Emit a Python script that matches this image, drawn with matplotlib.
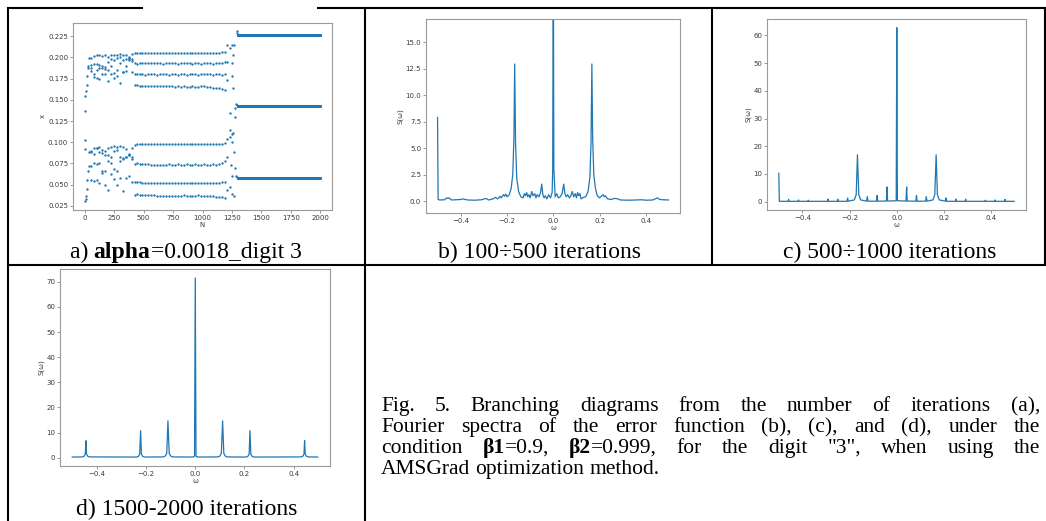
import matplotlib
matplotlib.use("Agg")
import matplotlib.pyplot as plt
from matplotlib.lines import Line2D
from matplotlib.patches import Rectangle

W, H = 1046, 521
BLUE = "#1f77b4"

# ---- a) branching diagram: x values vs iteration N ----
a_start_n = [0, 3, 5, 8, 12, 18, 22, 28, 32, 40, 0, 5, 10, 15, 20, 25, 30, 35]
a_start_x = [0.030, 0.102, 0.092, 0.033, 0.037, 0.045, 0.055, 0.066, 0.072, 0.088,
             0.137, 0.155, 0.160, 0.168, 0.178, 0.188, 0.190, 0.199]

a_early_n = [50, 75, 100, 125, 150, 175, 200, 225, 250, 275, 300, 325, 350, 375, 400, 425]
a_early_rows = [
    [0.1995, 0.202, 0.203, 0.203, 0.202, 0.2035, 0.201, 0.203, 0.2035, 0.2035, 0.204, 0.2035, 0.2025, 0.200, 0.204, 0.205],
    [0.1915, 0.192, 0.1925, 0.191, 0.190, 0.189, 0.195, 0.198, 0.197, 0.199, 0.200, 0.197, 0.198, 0.199, 0.196, 0.193],
    [0.187, 0.180, 0.185, 0.187, 0.187, 0.186, 0.185, 0.190, 0.182, 0.185, 0.194, 0.183, 0.184, 0.198, 0.183, 0.180],
    [0.184, 0.177, 0.176, 0.175, 0.181, 0.180, 0.172, 0.180, 0.176, 0.178, 0.170, 0.183, 0.190, 0.197, 0.198, 0.167],
    [0.090, 0.093, 0.0935, 0.094, 0.091, 0.090, 0.093, 0.094, 0.095, 0.094, 0.096, 0.094, 0.092, 0.086, 0.093, 0.097],
    [0.088, 0.086, 0.093, 0.089, 0.087, 0.085, 0.085, 0.083, 0.090, 0.091, 0.082, 0.081, 0.083, 0.085, 0.083, 0.0745],
    [0.072, 0.075, 0.074, 0.076, 0.066, 0.066, 0.078, 0.075, 0.068, 0.066, 0.078, 0.080, 0.082, 0.085, 0.080, 0.0525],
    [0.055, 0.054, 0.055, 0.052, 0.064, 0.050, 0.044, 0.062, 0.056, 0.049, 0.058, 0.042, 0.058, 0.060, 0.053, 0.038],
]

a_plateau_n = list(range(440, 1191, 25))
a_plateau_rows = [
    [0.2055, 0.2057, 0.2057, 0.2057, 0.2056, 0.2057, 0.2057, 0.2057, 0.2056, 0.2057,
     0.2057, 0.2057, 0.2057, 0.2056, 0.2057, 0.2057, 0.2057, 0.2057, 0.2056, 0.2057,
     0.2057, 0.2057, 0.2056, 0.2057, 0.2057, 0.2057, 0.2057, 0.2056, 0.2057, 0.2060, 0.2068],
    [0.1925, 0.1935, 0.1935, 0.1932, 0.1935, 0.1935, 0.1930, 0.1935, 0.1935, 0.1928,
     0.1935, 0.1935, 0.1932, 0.1935, 0.1925, 0.1935, 0.1935, 0.1930, 0.1935, 0.1928,
     0.1935, 0.1935, 0.1922, 0.1935, 0.1935, 0.1930, 0.1928, 0.1935, 0.1930, 0.1940, 0.1950],
    [0.1805, 0.1800, 0.1800, 0.1795, 0.1800, 0.1800, 0.1800, 0.1795, 0.1800, 0.1800,
     0.1805, 0.1795, 0.1800, 0.1800, 0.1795, 0.1800, 0.1800, 0.1797, 0.1800, 0.1805,
     0.1800, 0.1795, 0.1800, 0.1800, 0.1805, 0.1800, 0.1795, 0.1800, 0.1805, 0.1795, 0.1800],
    [0.1670, 0.1665, 0.1660, 0.1658, 0.1658, 0.1658, 0.1658, 0.1658, 0.1658, 0.1658,
     0.1658, 0.1658, 0.1658, 0.1655, 0.1658, 0.1650, 0.1658, 0.1655, 0.1650, 0.1658,
     0.1655, 0.1650, 0.1658, 0.1665, 0.1655, 0.1650, 0.1645, 0.1640, 0.1635, 0.1625, 0.1615],
    [0.0975, 0.0977, 0.0978, 0.0978, 0.0977, 0.0978, 0.0978, 0.0978, 0.0977, 0.0978,
     0.0978, 0.0978, 0.0977, 0.0978, 0.0978, 0.0978, 0.0978, 0.0977, 0.0978, 0.0978,
     0.0978, 0.0977, 0.0978, 0.0978, 0.0978, 0.0977, 0.0978, 0.0978, 0.0978, 0.0980, 0.0985],
    [0.0755, 0.0745, 0.0740, 0.0740, 0.0738, 0.0735, 0.0735, 0.0735, 0.0735, 0.0735,
     0.0733, 0.0738, 0.0735, 0.0730, 0.0738, 0.0735, 0.0728, 0.0740, 0.0730, 0.0735,
     0.0740, 0.0728, 0.0735, 0.0740, 0.0730, 0.0735, 0.0738, 0.0735, 0.0740, 0.0750, 0.0780],
    [0.0525, 0.0525, 0.0522, 0.0520, 0.0520, 0.0520, 0.0520, 0.0520, 0.0518, 0.0520,
     0.0520, 0.0520, 0.0522, 0.0520, 0.0518, 0.0520, 0.0515, 0.0522, 0.0520, 0.0518,
     0.0522, 0.0515, 0.0520, 0.0522, 0.0518, 0.0520, 0.0515, 0.0520, 0.0522, 0.0525, 0.0530],
    [0.0385, 0.0378, 0.0375, 0.0375, 0.0373, 0.0372, 0.0372, 0.0370, 0.0370, 0.0370,
     0.0370, 0.0370, 0.0368, 0.0370, 0.0365, 0.0370, 0.0372, 0.0368, 0.0365, 0.0370,
     0.0365, 0.0372, 0.0368, 0.0365, 0.0362, 0.0365, 0.0360, 0.0358, 0.0355, 0.0350, 0.0340],
]

a_jump_n = [1211, 1231, 1251, 1268, 1259, 1251, 1211, 1251, 1211, 1259, 1231, 1274, 1279, 1288,
            1231, 1251, 1211, 1231, 1251, 1268, 1211, 1240, 1274, 1231, 1211, 1251, 1251, 1288,
            1290, 1290, 1295, 1295, 1268, 1262]
a_jump_x = [0.2143, 0.211, 0.2145, 0.215, 0.2025, 0.193, 0.195, 0.178, 0.173, 0.164, 0.134, 0.1295, 0.140, 0.145,
            0.114, 0.110, 0.104, 0.106, 0.100, 0.088, 0.082, 0.073, 0.069, 0.047, 0.044, 0.039, 0.060, 0.060,
            0.231, 0.2285, 0.1435, 0.0590, 0.037, 0.111]

a_tail_n = list(range(1300, 2001, 5))
a_tail_levels = [0.2268, 0.1426, 0.0578]

# ---- b) spectrum, 100..500 iterations ----
b_w = [-0.5, -0.4975, -0.49, -0.47, -0.46, -0.455, -0.45, -0.44, -0.42, -0.40, -0.39, -0.37, -0.34,
       -0.31, -0.29, -0.28, -0.26, -0.25, -0.24, -0.23, -0.225, -0.215, -0.21, -0.205, -0.2, -0.19,
       -0.182, -0.175, -0.17, -0.1667, -0.163, -0.158, -0.15, -0.14, -0.13, -0.125, -0.12, -0.115,
       -0.11, -0.105, -0.1, -0.093, -0.088, -0.08, -0.075, -0.07, -0.062, -0.055, -0.05, -0.045,
       -0.04, -0.035, -0.028, -0.02, -0.012, -0.005, -0.0025, 0.0, 0.0025, 0.008, 0.015, 0.022,
       0.03, 0.038, 0.045, 0.05, 0.056, 0.062, 0.07, 0.076, 0.082, 0.088, 0.095, 0.1, 0.105, 0.11,
       0.115, 0.12, 0.13, 0.14, 0.15, 0.158, 0.163, 0.1667, 0.17, 0.175, 0.182, 0.19, 0.2, 0.21,
       0.215, 0.22, 0.225, 0.235, 0.25, 0.265, 0.28, 0.29, 0.33, 0.38, 0.4, 0.43, 0.45, 0.46,
       0.475, 0.4975]
b_s = [7.9, 0.15, 0.1, 0.12, 0.3, 0.25, 0.3, 0.1, 0.12, 0.15, 0.2, 0.1, 0.08,
       0.12, 0.25, 0.1, 0.2, 0.35, 0.2, 0.45, 0.3, 0.6, 0.45, 0.65, 0.4, 0.6,
       1.2, 2.5, 6.0, 12.95, 5.5, 2.2, 0.9, 0.4, 0.3, 0.7, 0.5, 0.8,
       0.4, 0.6, 0.3, 0.9, 0.5, 0.7, 0.3, 0.6, 0.4, 0.8, 1.6, 0.6,
       0.3, 0.5, 0.2, 0.6, 0.3, 0.8, 3.0, 25.0, 3.0, 0.4, 0.7, 0.3,
       0.4, 0.7, 1.6, 0.7, 0.4, 0.6, 0.3, 0.5, 0.9, 0.4, 0.7, 0.3, 0.8, 0.5,
       0.7, 0.2, 0.35, 0.4, 0.9, 2.2, 5.5, 12.95, 6.0, 2.5, 1.2, 0.5, 0.3, 0.5,
       0.6, 0.4, 0.5, 0.2, 0.15, 0.25, 0.2, 0.1, 0.08, 0.12, 0.08, 0.1, 0.3, 0.15,
       0.12, 0.1]

# ---- c) spectrum, 500..1000 iterations ----
c_w = [-0.5, -0.4975, -0.461, -0.4583, -0.456, -0.419, -0.4167, -0.414, -0.377, -0.375, -0.373,
       -0.294, -0.2917, -0.289, -0.252, -0.25, -0.248, -0.211, -0.2083, -0.206, -0.18, -0.172,
       -0.1667, -0.161, -0.153, -0.128, -0.125, -0.122, -0.086, -0.0833, -0.081, -0.044, -0.0417,
       -0.039, -0.0025, 0.0, 0.0025, 0.039, 0.0417, 0.044, 0.081, 0.0833, 0.086, 0.122, 0.125,
       0.128, 0.153, 0.161, 0.1667, 0.172, 0.18, 0.206, 0.2083, 0.211, 0.248, 0.25, 0.252, 0.289,
       0.2917, 0.294, 0.373, 0.375, 0.377, 0.414, 0.4167, 0.419, 0.456, 0.4583, 0.461, 0.4975]
c_s = [10.2, 0.1, 0.1, 0.8, 0.1, 0.1, 0.6, 0.1, 0.1, 0.5, 0.1,
       0.1, 0.9, 0.1, 0.1, 0.9, 0.1, 0.1, 1.3, 0.15, 0.6, 2.5,
       16.9, 2.5, 0.6, 0.15, 1.8, 0.15, 0.15, 2.2, 0.15, 0.2, 5.3,
       0.2, 0.3, 62.8, 0.3, 0.2, 5.3, 0.2, 0.15, 2.2, 0.15, 0.15, 1.8,
       0.15, 0.6, 2.5, 16.9, 2.5, 0.6, 0.15, 1.3, 0.1, 0.1, 0.9, 0.1, 0.1,
       0.9, 0.1, 0.1, 0.5, 0.1, 0.1, 0.6, 0.1, 0.1, 0.8, 0.1, 0.1]

# ---- d) spectrum, 1500..2000 iterations ----
d_w = [-0.5, -0.46, -0.452, -0.447, -0.4444, -0.442, -0.437, -0.429, -0.24, -0.232, -0.226,
       -0.2222, -0.219, -0.213, -0.205, -0.13, -0.122, -0.116, -0.1111, -0.106, -0.1, -0.092,
       -0.01, -0.003, 0.0, 0.003, 0.01, 0.092, 0.1, 0.106, 0.1111, 0.116, 0.122, 0.13, 0.205,
       0.213, 0.219, 0.2222, 0.226, 0.232, 0.24, 0.429, 0.437, 0.442, 0.4444, 0.447, 0.452, 0.46,
       0.4978]
d_s = [0.3, 0.35, 0.6, 1.5, 6.8, 1.5, 0.6, 0.35, 0.3, 0.5, 1.4,
       10.8, 1.4, 0.5, 0.3, 0.35, 0.7, 1.8, 14.7, 1.8, 0.7, 0.35,
       0.3, 0.6, 71.5, 0.6, 0.3, 0.35, 0.7, 1.8, 14.7, 1.8, 0.7, 0.35, 0.3,
       0.5, 1.4, 10.8, 1.4, 0.5, 0.3, 0.35, 0.6, 1.5, 6.8, 1.5, 0.6, 0.35,
       0.3]

captions = ["100\u00f7500 iterations", "500\u00f71000 iterations", "1500-2000 iterations"]
fig_caption = [
    [["Fig."], ["5."], ["Branching"], ["diagrams"], ["from"], ["the"], ["number"], ["of"],
     ["iterations"], ["(a),"]],
    [["Fourier"], ["spectra"], ["of"], ["the"], ["error"], ["function"], ["(b),"], ["(c),"],
     ["and"], ["(d),"], ["under"], ["the"]],
    [["condition"], [("\u03b21", "bold"), "=0.9,"], [("\u03b22", "bold"), "=0.999,"], ["for"],
     ["the"], ["digit"], ['"3",'], ["when"], ["using"], ["the"]],
    [["AMSGrad"], ["optimization"], ["method."]],
]

SERIF = "Liberation Serif"
TXT = "#3a3a3a"


def px_axes(fig, l, t, r, b):
    return fig.add_axes([l / W, 1 - b / H, (r - l) / W, (b - t) / H])


def style(ax, xlabel, ylabel):
    for sp in ax.spines.values():
        sp.set_color("#9a9a9a")
        sp.set_linewidth(0.8)
    ax.tick_params(labelsize=5, colors="#888888", labelcolor=TXT, length=2, width=0.6, pad=1.5)
    ax.set_xlabel(xlabel, fontsize=5, color=TXT, labelpad=1)
    ax.set_ylabel(ylabel, fontsize=5, color=TXT, labelpad=1.5)


def hline(fig, y, x0, x1):
    fig.add_artist(Line2D([x0 / W, x1 / W], [1 - y / H, 1 - y / H], color="black", lw=1.5,
                          transform=fig.transFigure, solid_capstyle="butt", zorder=20))


def vline(fig, x, y0, y1):
    fig.add_artist(Line2D([x / W, x / W], [1 - y0 / H, 1 - y1 / H], color="black", lw=1.5,
                          transform=fig.transFigure, solid_capstyle="butt", zorder=20))


def run_width(fig, r, pieces, size):
    w = 0
    for p in pieces:
        s, wt = (p, "normal") if isinstance(p, str) else p
        t = fig.text(0, 0, s, fontsize=size, family=SERIF, weight=wt)
        w += t.get_window_extent(r).width
        t.remove()
    return w


def draw_pieces(fig, r, x, y, pieces, size):
    for p in pieces:
        s, wt = (p, "normal") if isinstance(p, str) else p
        t = fig.text(x / W, 1 - y / H, s, fontsize=size, family=SERIF, weight=wt,
                     va="baseline", ha="left", color="black")
        x += t.get_window_extent(r).width
    return x


fig = plt.figure(figsize=(W / 100, H / 100), dpi=100)
r = fig.canvas.get_renderer()

# a) branching diagram
ax = px_axes(fig, 73, 22.7, 332, 210)
ax.plot(a_start_n, a_start_x, "o", color=BLUE, ms=1.7, mew=0)
for row in a_early_rows:
    ax.plot(a_early_n, row, "o", color=BLUE, ms=1.7, mew=0)
for row in a_plateau_rows:
    ax.plot(a_plateau_n, row, "o", color=BLUE, ms=1.7, mew=0)
ax.plot(a_jump_n, a_jump_x, "o", color=BLUE, ms=1.7, mew=0)
for lev in a_tail_levels:
    ax.plot(a_tail_n, [lev] * len(a_tail_n), "o", color=BLUE, ms=2.2, mew=0)
style(ax, "N", "x")

# b) spectrum
ax = px_axes(fig, 426, 19, 680, 213)
ax.plot(b_w, b_s, color=BLUE, lw=0.9)
ax.set_ylim(-1.13, 17.2)
style(ax, "\u03c9", "S(\u03c9)")

# c) spectrum
ax = px_axes(fig, 767, 19, 1026, 210)
ax.plot(c_w, c_s, color=BLUE, lw=0.9)
style(ax, "\u03c9", "S(\u03c9)")

# d) spectrum
ax = px_axes(fig, 60, 269, 330, 466)
ax.plot(d_w, d_s, color=BLUE, lw=0.9)
style(ax, "\u03c9", "S(\u03c9)")

# table grid
hline(fig, 7.5, 7, W)
hline(fig, 264.5, 7, W)
vline(fig, 7.5, 7, H)
vline(fig, 364.5, 7, H)
vline(fig, 712.5, 7, 264.5)
vline(fig, 1045, 7, 264.5)
fig.add_artist(Rectangle((143 / W, 1 - 22.3 / H), 174 / W, 17 / H, transform=fig.transFigure,
                         facecolor="white", edgecolor="none", zorder=25))

# panel captions
CAP = 17
panel_caps = [
    (185.5, 258, ["a) ", ("alpha", "bold"), "=0.0018_digit 3"]),
    (539, 258, ["b) " + captions[0]]),
    (890, 258, ["c) " + captions[1]]),
    (187, 515, ["d) " + captions[2]]),
]
for cx, by, pieces in panel_caps:
    w = run_width(fig, r, pieces, CAP)
    draw_pieces(fig, r, cx - w / 2, by, pieces, CAP)

# figure caption, justified
FS = 15.5
x0, x1 = 381, 1040
baselines = [411, 432, 453, 474]
for i, (words, by) in enumerate(zip(fig_caption, baselines)):
    widths = [run_width(fig, r, wd, FS) for wd in words]
    if i < len(fig_caption) - 1:
        gap = (x1 - x0 - sum(widths)) / (len(words) - 1)
    else:
        gap = run_width(fig, r, ["a a"], FS) - run_width(fig, r, ["aa"], FS)
    x = x0
    for wd, w in zip(words, widths):
        draw_pieces(fig, r, x, by, wd, FS)
        x += w + gap

fig.savefig("out.png", dpi=100)
